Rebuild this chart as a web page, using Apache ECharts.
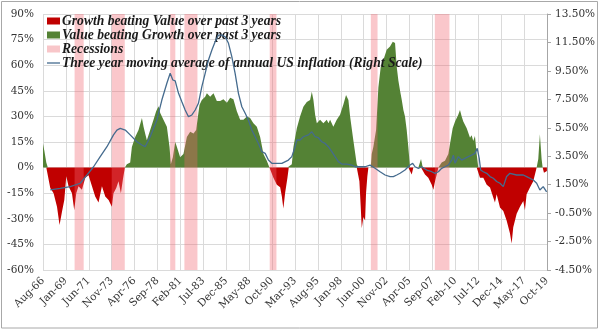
<!DOCTYPE html>
<html>
<head>
<meta charset="utf-8">
<script src="https://cdn.jsdelivr.net/npm/echarts@6/dist/echarts.min.js"></script>
<style>html,body{margin:0;padding:0;background:#fff}#c{width:600px;height:332px}</style>
</head>
<body>
<div id="c"></div>
<script>
// x-axis tick labels (every 29 months from Aug-66)
const tickLabels = ['Aug-66','Jan-69','Jun-71','Nov-73','Apr-76','Sep-78','Feb-81','Jul-83','Dec-85','May-88','Oct-90','Mar-93','Aug-95','Jan-98','Jun-00','Nov-02','Apr-05','Sep-07','Feb-10','Jul-12','Dec-14','May-17','Oct-19'];
const seriesNames = ['Growth beating Value over past 3 years','Value beating Growth over past 3 years','Recessions','Three year moving average of annual US inflation (Right Scale)'];

// Growth-vs-Value 3y relative performance (% , left axis): [decimal year, value]; >0 = value beating growth
const spread = [
[1966.58,14],[1966.72,10],[1966.93,3],[1967.09,0],
[1967.35,-12],[1967.70,-15],[1968.06,-23],[1968.33,-33.6],[1968.58,-26],[1968.83,-19],[1969.04,-5],[1969.28,-11],[1969.64,-15],[1969.88,-25],[1970.09,-15],[1970.33,-11],[1970.69,-13],[1971.04,-6],[1971.39,-4.5],[1971.75,-11],[1972.09,-17],[1972.44,-20.5],[1972.80,-11],[1973.15,-17],[1973.50,-19],[1973.85,-23],[1974.02,-15],[1974.31,-12],[1974.55,-8],[1974.80,-15],[1975.01,-7],[1975.22,0],
[1975.43,2],[1975.78,3],[1975.96,12],[1976.31,18],[1976.66,22],[1977.02,29],[1977.19,24],[1977.36,20],[1977.54,16],[1977.89,22],[1978.24,28],[1978.52,33],[1978.77,36],[1978.95,32],[1979.29,28],[1979.65,24],[1979.93,12],[1980.07,2],[1980.28,6],[1980.53,15],[1980.71,12],[1981.05,6],[1981.40,8],[1981.76,18],[1982.11,21],[1982.46,20],[1982.74,22],[1982.88,28],[1983.09,36.7],[1983.34,39.6],[1983.69,41.5],[1983.87,43.5],[1984.22,41.5],[1984.57,43.5],[1984.92,39],[1985.27,39],[1985.62,40],[1985.98,38],[1986.33,41],[1986.67,40],[1987.03,33],[1987.38,28],[1987.73,28],[1988.09,30],[1988.43,29],[1988.78,26],[1989.14,24],[1989.49,18],[1989.84,8],[1990.19,4],[1990.47,0],
[1990.89,-6],[1991.25,-10],[1991.60,-11.5],[1991.78,-17],[1991.94,-24],[1992.12,-15],[1992.37,-6],[1992.51,0],
[1992.83,2],[1993.00,12],[1993.36,23],[1993.70,30],[1994.05,35.7],[1994.41,38.5],[1994.76,39.6],[1994.94,44.5],[1995.11,39.6],[1995.29,31],[1995.47,26],[1995.81,28],[1996.16,26],[1996.52,28],[1996.69,26],[1996.87,28],[1997.21,24],[1997.57,28],[1997.92,31],[1998.27,37],[1998.55,42.5],[1998.80,39.6],[1998.98,30],[1999.32,16],[1999.68,2],[1999.85,0],
[1999.96,-8],[2000.10,-23],[2000.21,-35.6],[2000.38,-29],[2000.56,-31],[2000.66,-15],[2000.80,-5],[2000.91,0],[2001.16,0],
[2001.26,8],[2001.43,12],[2001.72,22],[2001.96,47],[2002.21,59],[2002.49,63],[2002.84,69],[2003.19,71],[2003.48,73.8],[2003.72,73],[2003.90,59],[2004.07,51],[2004.25,45],[2004.43,39.6],[2004.60,33.7],[2004.77,30],[2004.95,22],[2005.12,12],[2005.30,0],
[2005.48,-4],[2005.65,0],[2006.18,0],[2006.46,5],[2006.64,0],
[2006.88,-4],[2007.23,-6],[2007.59,-10],[2007.76,-13],[2007.94,-8],[2008.12,-4],[2008.29,0],
[2008.64,3],[2008.99,4],[2009.34,8],[2009.52,14],[2009.80,23],[2010.05,27],[2010.39,31],[2010.57,33.7],[2010.75,30],[2010.92,27],[2011.28,23],[2011.63,17.5],[2011.80,19],[2011.97,15.6],[2012.15,18.5],[2012.33,8],[2012.50,0],
[2012.68,-6],[2013.03,-6],[2013.39,-10],[2013.74,-11.7],[2014.08,-17.5],[2014.26,-20.5],[2014.44,-15.6],[2014.79,-23.4],[2015.14,-25.4],[2015.49,-31],[2015.84,-38.5],[2016.02,-44.4],[2016.19,-35],[2016.55,-27],[2016.90,-23],[2017.25,-19.5],[2017.42,-25],[2017.60,-15.6],[2017.95,-11.7],[2018.30,-8],[2018.66,0],
[2018.83,5],[2019.00,19.5],[2019.18,5],[2019.29,0],[2019.43,-3],[2019.64,-4],[2019.74,-2]
];

// 3y moving average of annual US inflation (%, right axis): [decimal year, value]
const inflation = [
[1967.35,1.13],[1968.40,1.24],[1969.46,1.36],[1970.51,1.6],[1971.22,2.18],[1971.92,2.76],[1972.62,3.47],[1973.33,4.17],[1974.02,5.0],[1974.38,5.34],[1974.73,5.46],[1975.26,5.34],[1975.78,5.0],[1976.49,4.52],[1977.02,4.29],[1977.36,4.17],[1977.89,4.87],[1978.60,6.05],[1979.12,7.45],[1979.65,8.63],[1980.00,9.33],[1980.28,8.86],[1980.53,8.8],[1980.88,7.92],[1981.23,7.33],[1981.58,6.75],[1981.93,6.28],[1982.29,6.4],[1982.64,6.75],[1982.98,7.22],[1983.34,8.39],[1983.69,9.33],[1984.04,10.27],[1984.40,10.97],[1984.74,11.55],[1985.09,12.02],[1985.45,12.02],[1985.80,11.9],[1986.15,11.44],[1986.50,10.5],[1986.85,9.33],[1987.20,7.92],[1987.56,6.98],[1987.91,6.52],[1988.25,6.05],[1988.61,5.34],[1988.96,4.87],[1989.31,4.4],[1989.67,3.82],[1990.02,3.7],[1990.36,3.23],[1990.72,3.0],[1991.78,3.0],[1992.47,3.23],[1992.83,3.47],[1993.18,4.17],[1993.36,4.64],[1993.70,4.64],[1994.05,4.87],[1994.58,5.0],[1994.94,5.22],[1995.29,4.87],[1995.63,4.8],[1995.99,4.52],[1996.34,4.4],[1996.69,4.17],[1997.05,3.82],[1997.39,3.47],[1997.74,3.12],[1998.10,2.95],[1998.63,2.95],[1999.15,2.88],[1999.50,2.76],[2000.56,2.76],[2001.08,2.88],[2001.61,2.65],[2002.14,2.41],[2002.67,2.18],[2003.19,2.07],[2003.54,2.07],[2003.90,2.18],[2004.25,2.3],[2004.77,2.53],[2005.30,2.88],[2005.58,3.0],[2005.83,2.76],[2006.18,2.65],[2006.53,2.76],[2007.06,2.53],[2007.59,2.41],[2007.94,2.3],[2008.29,2.41],[2008.64,2.65],[2008.99,2.76],[2009.34,2.88],[2009.70,3.23],[2009.87,3.58],[2010.05,3.0],[2010.39,3.47],[2010.75,3.23],[2011.10,3.35],[2011.45,3.47],[2011.80,3.58],[2012.15,3.7],[2012.39,4.06],[2012.60,3.35],[2012.75,2.53],[2013.03,2.41],[2013.39,2.3],[2013.74,2.07],[2014.08,1.95],[2014.44,1.72],[2014.79,1.6],[2015.14,1.36],[2015.49,2.07],[2015.84,2.3],[2016.55,2.18],[2017.25,2.18],[2017.60,2.07],[2018.30,1.83],[2018.66,1.6],[2019.00,1.13],[2019.35,1.36],[2019.71,1.0]
];

// US recessions (NBER), start and end month
const recessions = [['1969-12','1970-11'],['1973-11','1975-03'],['1980-01','1980-07'],['1981-07','1982-11'],['1990-07','1991-03'],['2001-03','2001-11'],['2007-12','2009-06']];

// left axis ticks
const leftMin = -60, leftMax = 90, leftStep = 15;
// right axis ticks
const rightMin = -4.5, rightMax = 13.5, rightStep = 2;

const START = 1966 + 7/12; // Aug-66
const toM = y => (y - START) * 12;
const ym = s => { const [Y, M] = s.split('-').map(Number); return (Y - 1966) * 12 + (M - 8); };
const RED = '#c00000', GREEN = '#548235', PINK = '#f8c6c9', BLUE = '#456b8e';

const chart = echarts.init(document.getElementById('c'), null, {renderer: 'canvas'});
const lblFont = {fontFamily: 'DejaVu Serif', fontSize: 10.5, color: '#333'};
chart.setOption({
  animation: false,
  backgroundColor: '#fff',
  graphic: [{type: 'rect', shape: {x: 1.5, y: 1.5, width: 596, height: 326.5}, style: {fill: 'none', stroke: '#a8a8a8', lineWidth: 1}, silent: true}],
  grid: {left: 43, right: 53, top: 14, bottom: 62},
  legend: {
    orient: 'vertical', left: 47, top: 14, padding: 0, itemGap: 0,
    itemWidth: 13, itemHeight: 7,
    textStyle: {fontFamily: 'Liberation Serif', fontStyle: 'italic', fontWeight: 'bold', fontSize: 13.6, lineHeight: 13.6, color: '#1a1a1a', padding: [0, 0, 0, -3]},
    data: [
      {name: seriesNames[0], icon: 'rect', itemStyle: {color: RED}},
      {name: seriesNames[1], icon: 'rect', itemStyle: {color: GREEN}},
      {name: seriesNames[2], icon: 'rect', itemStyle: {color: PINK}},
      {name: seriesNames[3], icon: 'path://M0,0H20V2H0Z', itemStyle: {color: BLUE}}
    ]
  },
  xAxis: {
    type: 'value', min: 0, max: (tickLabels.length - 1) * 29, interval: 29,
    axisLine: {show: false}, axisTick: {show: false},
    splitLine: {show: true, lineStyle: {color: '#dadada', width: 1}},
    axisLabel: Object.assign({rotate: 45, margin: 9, formatter: v => tickLabels[Math.round(v / 29)]}, lblFont)
  },
  yAxis: [
    {type: 'value', min: leftMin, max: leftMax, interval: leftStep,
     axisLine: {show: false}, axisTick: {show: false},
     splitLine: {lineStyle: {color: '#dadada'}},
     axisLabel: Object.assign({margin: 9, formatter: v => v + '%'}, lblFont)},
    {type: 'value', position: 'right', min: 0, max: rightMax - rightMin, interval: rightStep,
     axisLine: {show: true, lineStyle: {color: '#a6a6a6'}},
     axisTick: {show: true, inside: false, length: 4, lineStyle: {color: '#a6a6a6'}},
     splitLine: {show: false},
     axisLabel: Object.assign({margin: 8, formatter: v => (v + rightMin).toFixed(2) + '%'}, lblFont)}
  ],
  series: [
    {name: seriesNames[0], type: 'line', z: 2, symbol: 'none', lineStyle: {width: 0}, itemStyle: {color: RED},
     areaStyle: {color: RED, opacity: 1}, data: spread.map(p => [toM(p[0]), Math.min(p[1], 0)])},
    {name: seriesNames[1], type: 'line', z: 2, symbol: 'none', lineStyle: {width: 0}, itemStyle: {color: GREEN},
     areaStyle: {color: GREEN, opacity: 1}, data: spread.map(p => [toM(p[0]), Math.max(p[1], 0)])},
    {name: seriesNames[2], type: 'line', z: 3, symbol: 'none', data: [], itemStyle: {color: PINK},
     markArea: {silent: true, z: 3, itemStyle: {color: 'rgba(240,100,110,0.36)'},
       data: recessions.map(r => [{xAxis: ym(r[0])}, {xAxis: ym(r[1]) + 0.5}])}},
    {name: seriesNames[3], type: 'line', z: 5, yAxisIndex: 1, symbol: 'none', itemStyle: {color: BLUE},
     lineStyle: {color: BLUE, width: 1.3}, data: inflation.map(p => [toM(p[0]), p[1] - rightMin])}
  ]
});
</script>
</body>
</html>
